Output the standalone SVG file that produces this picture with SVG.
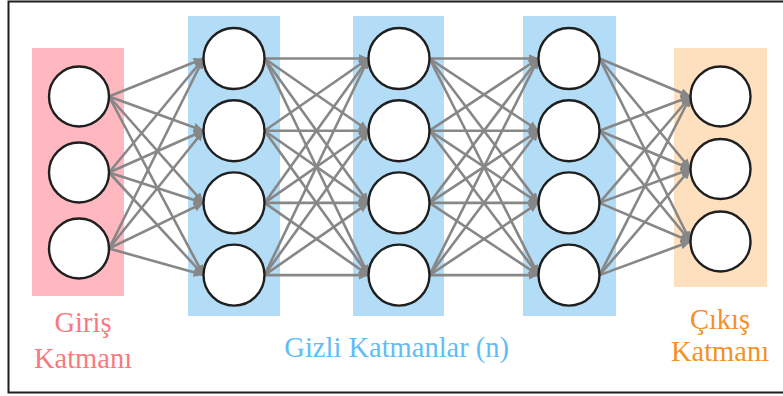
<svg xmlns="http://www.w3.org/2000/svg" width="783" height="396" viewBox="0 0 783 396">
  <defs>
    <style>
      .frame { fill: #ffffff; stroke: #1e1e1e; stroke-width: 2; }
      .node { fill: #ffffff; stroke: #1f1f1f; stroke-width: 2.4; }
      .edge { stroke: #878787; stroke-width: 2.6; fill: none; marker-end: url(#arrow); }
      .label { font-family: "Liberation Serif", "Times New Roman", serif; font-size: 28.5px; text-anchor: middle; }
      .in-bg { fill: #ffb8c0; }
      .hid-bg { fill: #b3dcf6; }
      .out-bg { fill: #fee0bf; }
    </style>
    <marker id="arrow" markerUnits="userSpaceOnUse" markerWidth="11" markerHeight="9" refX="10" refY="4.5" orient="auto">
      <path d="M0,0 L10,4.5 L0,9 z" fill="#878787"/>
    </marker>
  </defs>

  <!-- outer frame -->
  <rect class="frame" x="8.5" y="1.5" width="786" height="391"/>

  <!-- layer backgrounds -->
  <g id="layer-backgrounds">
    <rect class="in-bg" x="32" y="48" width="92" height="248"/>
    <rect class="hid-bg" x="188" y="16" width="92" height="300"/>
    <rect class="hid-bg" x="353" y="16" width="91" height="300"/>
    <rect class="hid-bg" x="523" y="16" width="93" height="300"/>
    <rect class="out-bg" x="674" y="48" width="93" height="239"/>
  </g>

  <!-- connectors -->
  <g id="connectors">
    <!-- input -> hidden 1 -->
    <line class="edge" x1="109" y1="96.5" x2="203.5" y2="58.5"/>
    <line class="edge" x1="109" y1="96.5" x2="203.5" y2="130.7"/>
    <line class="edge" x1="109" y1="96.5" x2="203.5" y2="202.9"/>
    <line class="edge" x1="109" y1="96.5" x2="203.5" y2="275.1"/>
    <line class="edge" x1="109" y1="172.5" x2="203.5" y2="58.5"/>
    <line class="edge" x1="109" y1="172.5" x2="203.5" y2="130.7"/>
    <line class="edge" x1="109" y1="172.5" x2="203.5" y2="202.9"/>
    <line class="edge" x1="109" y1="172.5" x2="203.5" y2="275.1"/>
    <line class="edge" x1="109" y1="248.5" x2="203.5" y2="58.5"/>
    <line class="edge" x1="109" y1="248.5" x2="203.5" y2="130.7"/>
    <line class="edge" x1="109" y1="248.5" x2="203.5" y2="202.9"/>
    <line class="edge" x1="109" y1="248.5" x2="203.5" y2="275.1"/>
    <!-- hidden 1 -> hidden 2 -->
    <line class="edge" x1="264.5" y1="58.5" x2="368.5" y2="58.5"/>
    <line class="edge" x1="264.5" y1="58.5" x2="368.5" y2="130.7"/>
    <line class="edge" x1="264.5" y1="58.5" x2="368.5" y2="202.9"/>
    <line class="edge" x1="264.5" y1="58.5" x2="368.5" y2="275.1"/>
    <line class="edge" x1="264.5" y1="130.7" x2="368.5" y2="58.5"/>
    <line class="edge" x1="264.5" y1="130.7" x2="368.5" y2="130.7"/>
    <line class="edge" x1="264.5" y1="130.7" x2="368.5" y2="202.9"/>
    <line class="edge" x1="264.5" y1="130.7" x2="368.5" y2="275.1"/>
    <line class="edge" x1="264.5" y1="202.9" x2="368.5" y2="58.5"/>
    <line class="edge" x1="264.5" y1="202.9" x2="368.5" y2="130.7"/>
    <line class="edge" x1="264.5" y1="202.9" x2="368.5" y2="202.9"/>
    <line class="edge" x1="264.5" y1="202.9" x2="368.5" y2="275.1"/>
    <line class="edge" x1="264.5" y1="275.1" x2="368.5" y2="58.5"/>
    <line class="edge" x1="264.5" y1="275.1" x2="368.5" y2="130.7"/>
    <line class="edge" x1="264.5" y1="275.1" x2="368.5" y2="202.9"/>
    <line class="edge" x1="264.5" y1="275.1" x2="368.5" y2="275.1"/>
    <!-- hidden 2 -> hidden 3 -->
    <line class="edge" x1="429.5" y1="58.5" x2="538.5" y2="58.5"/>
    <line class="edge" x1="429.5" y1="58.5" x2="538.5" y2="130.7"/>
    <line class="edge" x1="429.5" y1="58.5" x2="538.5" y2="202.9"/>
    <line class="edge" x1="429.5" y1="58.5" x2="538.5" y2="275.1"/>
    <line class="edge" x1="429.5" y1="130.7" x2="538.5" y2="58.5"/>
    <line class="edge" x1="429.5" y1="130.7" x2="538.5" y2="130.7"/>
    <line class="edge" x1="429.5" y1="130.7" x2="538.5" y2="202.9"/>
    <line class="edge" x1="429.5" y1="130.7" x2="538.5" y2="275.1"/>
    <line class="edge" x1="429.5" y1="202.9" x2="538.5" y2="58.5"/>
    <line class="edge" x1="429.5" y1="202.9" x2="538.5" y2="130.7"/>
    <line class="edge" x1="429.5" y1="202.9" x2="538.5" y2="202.9"/>
    <line class="edge" x1="429.5" y1="202.9" x2="538.5" y2="275.1"/>
    <line class="edge" x1="429.5" y1="275.1" x2="538.5" y2="58.5"/>
    <line class="edge" x1="429.5" y1="275.1" x2="538.5" y2="130.7"/>
    <line class="edge" x1="429.5" y1="275.1" x2="538.5" y2="202.9"/>
    <line class="edge" x1="429.5" y1="275.1" x2="538.5" y2="275.1"/>
    <!-- hidden 3 -> output -->
    <line class="edge" x1="599.5" y1="58.5" x2="690.5" y2="96.5"/>
    <line class="edge" x1="599.5" y1="58.5" x2="690.5" y2="169"/>
    <line class="edge" x1="599.5" y1="58.5" x2="690.5" y2="241.5"/>
    <line class="edge" x1="599.5" y1="130.7" x2="690.5" y2="96.5"/>
    <line class="edge" x1="599.5" y1="130.7" x2="690.5" y2="169"/>
    <line class="edge" x1="599.5" y1="130.7" x2="690.5" y2="241.5"/>
    <line class="edge" x1="599.5" y1="202.9" x2="690.5" y2="96.5"/>
    <line class="edge" x1="599.5" y1="202.9" x2="690.5" y2="169"/>
    <line class="edge" x1="599.5" y1="202.9" x2="690.5" y2="241.5"/>
    <line class="edge" x1="599.5" y1="275.1" x2="690.5" y2="96.5"/>
    <line class="edge" x1="599.5" y1="275.1" x2="690.5" y2="169"/>
    <line class="edge" x1="599.5" y1="275.1" x2="690.5" y2="241.5"/>
  </g>

  <!-- input layer -->
  <g id="in1"><circle class="node" cx="79" cy="96.5" r="30"/></g>
  <g id="in2"><circle class="node" cx="79" cy="172.5" r="30"/></g>
  <g id="in3"><circle class="node" cx="79" cy="248.5" r="30"/></g>

  <!-- hidden layer 1 -->
  <g id="h1a"><circle class="node" cx="234" cy="58.5" r="30.5"/></g>
  <g id="h1b"><circle class="node" cx="234" cy="130.7" r="30.5"/></g>
  <g id="h1c"><circle class="node" cx="234" cy="202.9" r="30.5"/></g>
  <g id="h1d"><circle class="node" cx="234" cy="275.1" r="30.5"/></g>

  <!-- hidden layer 2 -->
  <g id="h2a"><circle class="node" cx="399" cy="58.5" r="30.5"/></g>
  <g id="h2b"><circle class="node" cx="399" cy="130.7" r="30.5"/></g>
  <g id="h2c"><circle class="node" cx="399" cy="202.9" r="30.5"/></g>
  <g id="h2d"><circle class="node" cx="399" cy="275.1" r="30.5"/></g>

  <!-- hidden layer 3 -->
  <g id="h3a"><circle class="node" cx="569" cy="58.5" r="30.5"/></g>
  <g id="h3b"><circle class="node" cx="569" cy="130.7" r="30.5"/></g>
  <g id="h3c"><circle class="node" cx="569" cy="202.9" r="30.5"/></g>
  <g id="h3d"><circle class="node" cx="569" cy="275.1" r="30.5"/></g>

  <!-- output layer -->
  <g id="out1"><circle class="node" cx="720.5" cy="96.5" r="30"/></g>
  <g id="out2"><circle class="node" cx="720.5" cy="169" r="30"/></g>
  <g id="out3"><circle class="node" cx="720.5" cy="241.5" r="30"/></g>

  <!-- layer captions -->
  <g id="captions">
    <text class="label" x="83" y="331.5" fill="#f9797f">Giriş</text>
    <text class="label" x="83" y="368" fill="#f9797f">Katmanı</text>
    <text class="label" x="396.7" y="356.7" fill="#62bcf6">Gizli Katmanlar (n)</text>
    <text class="label" x="720" y="329" fill="#f39127">Çıkış</text>
    <text class="label" x="720" y="361" fill="#f39127">Katmanı</text>
  </g>
</svg>
